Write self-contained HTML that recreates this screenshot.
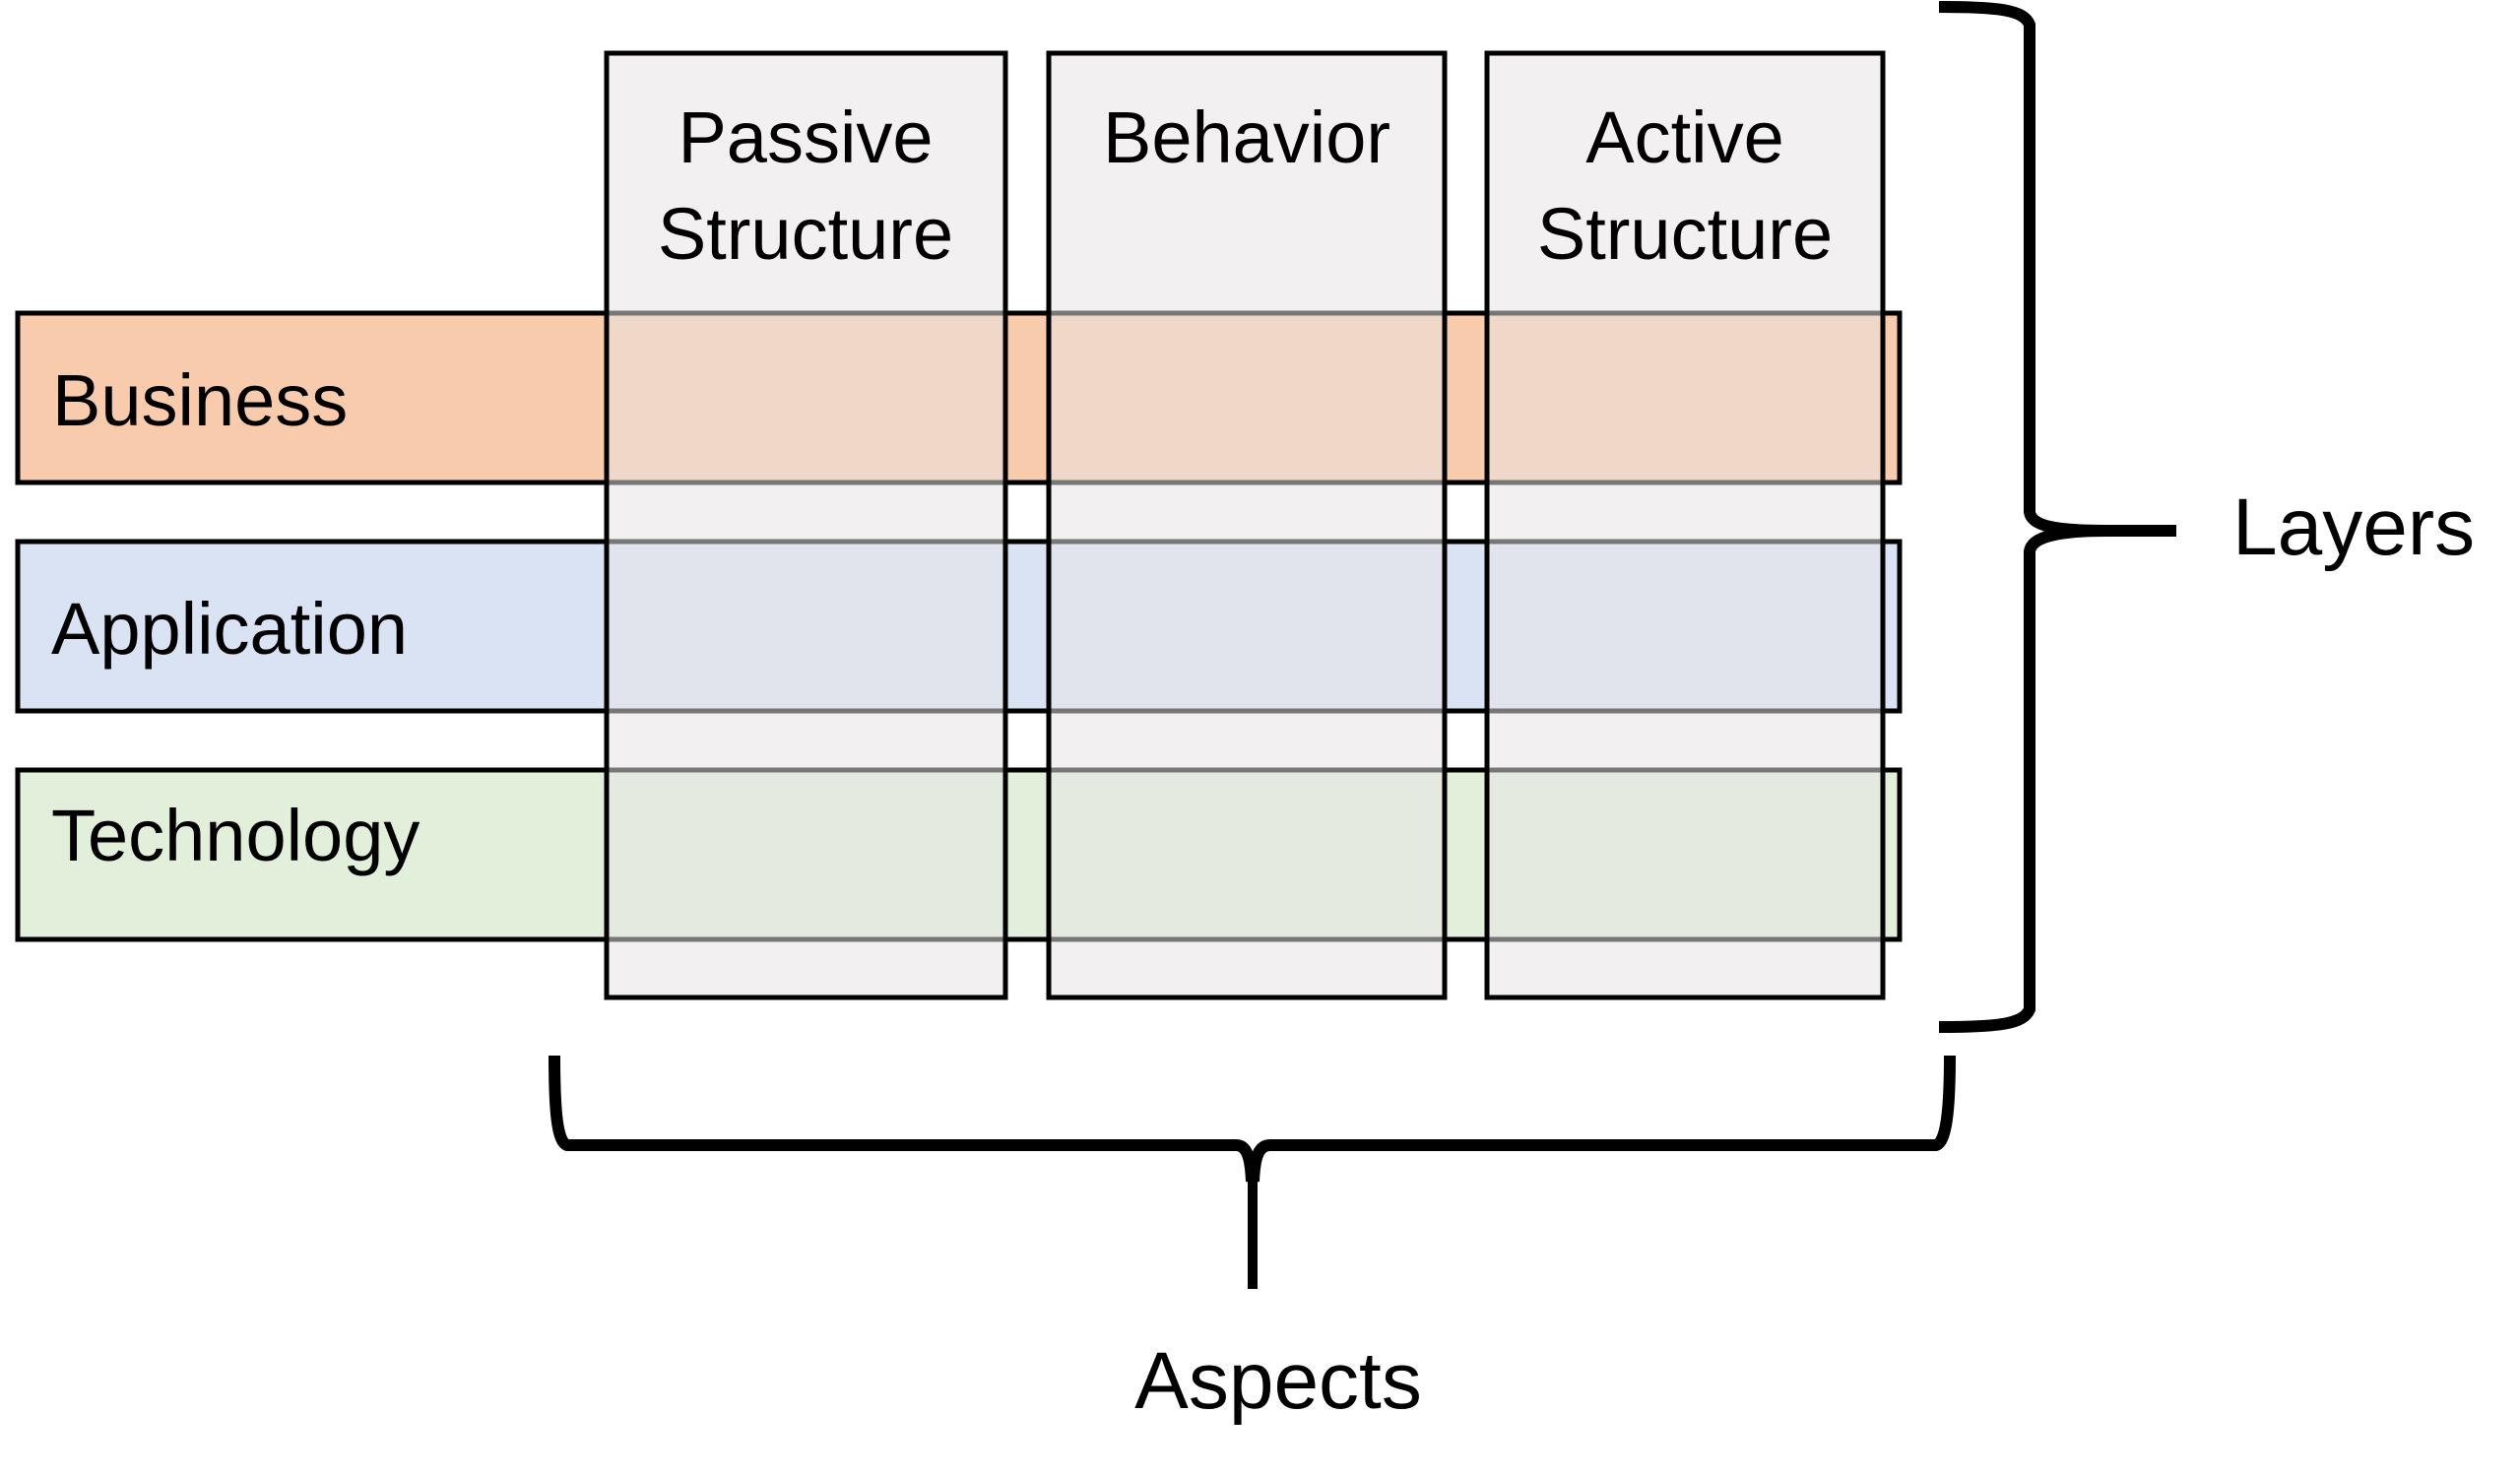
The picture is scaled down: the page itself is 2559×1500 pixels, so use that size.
<!DOCTYPE html>
<html><head><meta charset="utf-8"><style>html,body{margin:0;padding:0;background:#fff}svg{display:block}</style></head>
<body>
<svg width="2559" height="1500" viewBox="0 0 2559 1500" xmlns="http://www.w3.org/2000/svg" font-family="'Liberation Sans', sans-serif">
<rect width="2559" height="1500" fill="#fff"/>
<!-- rows -->
<rect x="18" y="318" width="1911" height="172" fill="#F8CBAD" stroke="#000" stroke-width="5"/>
<rect x="18" y="550" width="1911" height="172" fill="#DAE3F3" stroke="#000" stroke-width="5"/>
<rect x="18" y="782" width="1911" height="172" fill="#E2EFDA" stroke="#000" stroke-width="5"/>
<!-- columns -->
<g>
<rect x="616" y="54" width="405" height="959" fill="#F2F0F0"/>
<rect x="1065" y="54" width="402" height="959" fill="#F2F0F0"/>
<rect x="1510" y="54" width="402" height="959" fill="#F2F0F0"/>
</g>
<g>
<rect x="616" y="318" width="405" height="172" fill="#F0D8C8"/>
<rect x="1065" y="318" width="402" height="172" fill="#F0D8C8"/>
<rect x="1510" y="318" width="402" height="172" fill="#F0D8C8"/>
<rect x="616" y="550" width="405" height="172" fill="#E1E4EC"/>
<rect x="1065" y="550" width="402" height="172" fill="#E1E4EC"/>
<rect x="1510" y="550" width="402" height="172" fill="#E1E4EC"/>
<rect x="616" y="782" width="405" height="172" fill="#E5EAE0"/>
<rect x="1065" y="782" width="402" height="172" fill="#E5EAE0"/>
<rect x="1510" y="782" width="402" height="172" fill="#E5EAE0"/>
</g>
<g stroke="#777" stroke-width="5">
<line x1="616" y1="318" x2="1021" y2="318"/><line x1="616" y1="490" x2="1021" y2="490"/>
<line x1="616" y1="550" x2="1021" y2="550"/><line x1="616" y1="722" x2="1021" y2="722"/>
<line x1="616" y1="782" x2="1021" y2="782"/><line x1="616" y1="954" x2="1021" y2="954"/>
<line x1="1065" y1="318" x2="1467" y2="318"/><line x1="1065" y1="490" x2="1467" y2="490"/>
<line x1="1065" y1="550" x2="1467" y2="550"/><line x1="1065" y1="722" x2="1467" y2="722"/>
<line x1="1065" y1="782" x2="1467" y2="782"/><line x1="1065" y1="954" x2="1467" y2="954"/>
<line x1="1510" y1="318" x2="1912" y2="318"/><line x1="1510" y1="490" x2="1912" y2="490"/>
<line x1="1510" y1="550" x2="1912" y2="550"/><line x1="1510" y1="722" x2="1912" y2="722"/>
<line x1="1510" y1="782" x2="1912" y2="782"/><line x1="1510" y1="954" x2="1912" y2="954"/>
</g>
<g fill="none" stroke="#000" stroke-width="5">
<rect x="616" y="54" width="405" height="959"/>
<rect x="1065" y="54" width="402" height="959"/>
<rect x="1510" y="54" width="402" height="959"/>
</g>
<!-- texts -->
<g font-size="74" fill="#000" text-anchor="middle">
<text x="818" y="165">Passive</text>
<text x="818" y="263">Structure</text>
<text x="1266" y="165">Behavior</text>
<text x="1711" y="165">Active</text>
<text x="1711" y="263">Structure</text>
</g>
<g font-size="74" fill="#000">
<text x="53" y="432">Business</text>
<text x="52" y="664">Application</text>
<text x="52" y="874">Technology</text>
</g>
<!-- braces -->
<g fill="none" stroke="#000" stroke-width="12">
<path d="M1969,7 C2030,7 2055,10 2061,25 L2061,520 C2063,535 2090,539 2140,539 L2210,539"/>
<path d="M2140,539 C2090,539 2063,545 2061,560 L2061,1025 C2055,1040 2030,1043 1969,1043"/>
<path d="M563,1072 C563,1130 566,1160 576,1163 L1255,1163 C1266,1163 1270,1175 1271,1200"/>
<path d="M1273,1200 C1274,1175 1278,1163 1290,1163 L1966,1163 C1976,1160 1980,1130 1980,1072"/>
</g>
<line x1="1272" y1="1190" x2="1272" y2="1309" stroke="#000" stroke-width="10"/>
<g font-size="82" fill="#000">
<text x="2267" y="563">Layers</text>
<text x="1298" y="1430" text-anchor="middle">Aspects</text>
</g>
</svg>
</body></html>
